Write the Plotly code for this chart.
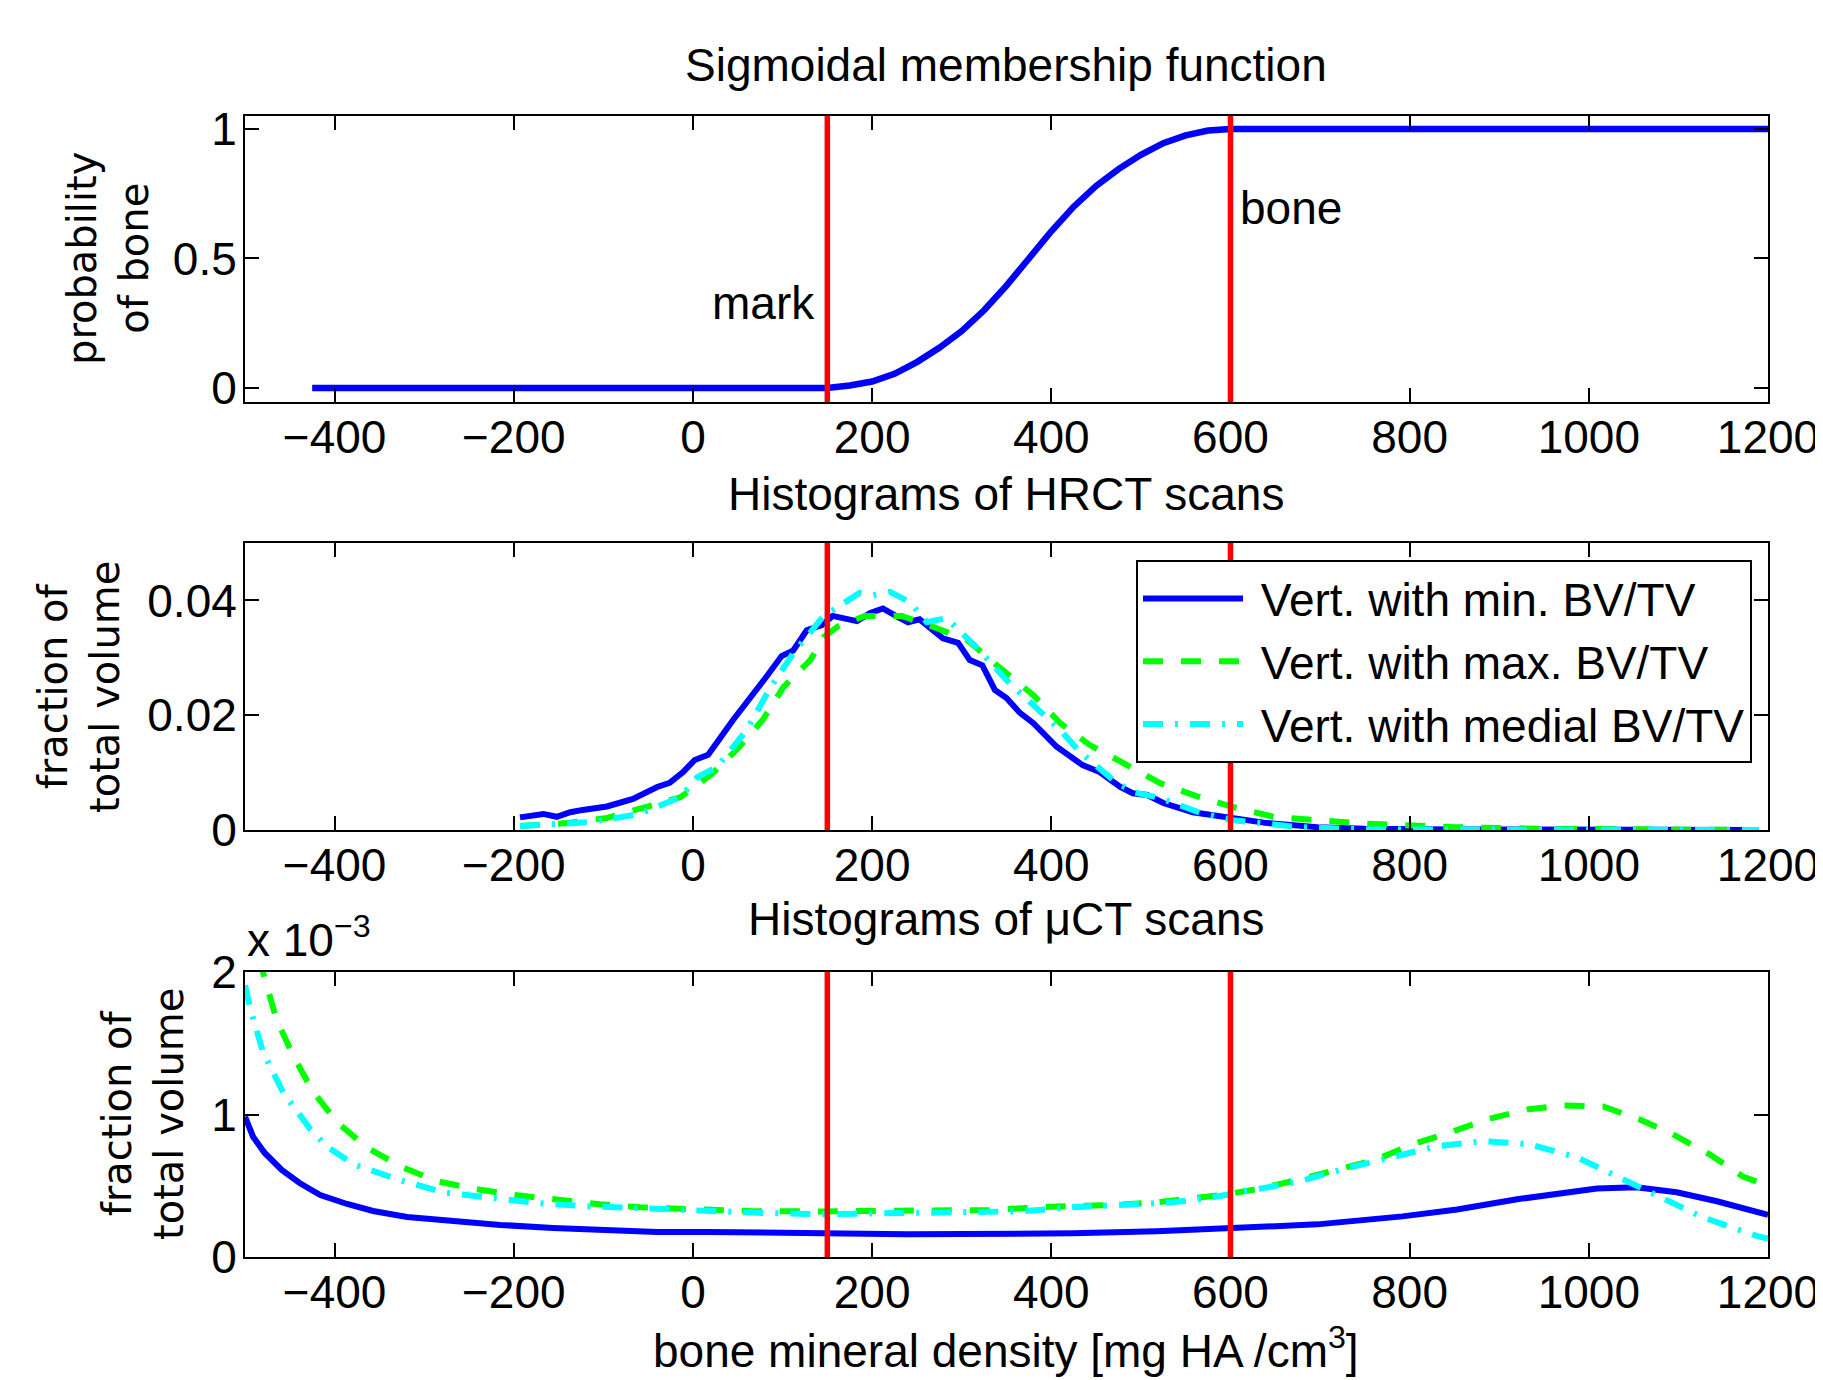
import plotly.graph_objects as go

# ---------------- data ----------------
# Top: sigmoidal membership function
sig_x = [-425, 150, 175, 200, 225, 250, 275, 300, 325, 350, 375, 400, 425, 450,
         475, 500, 525, 550, 575, 600, 1200]
sig_y = [0, 0, 0.01, 0.025, 0.055, 0.10, 0.155, 0.22, 0.30, 0.395, 0.50, 0.605,
         0.70, 0.78, 0.845, 0.90, 0.945, 0.975, 0.994, 1.0, 1.0]

thresholds = [150, 600]
threshold_labels = ["mark", "bone"]

# Middle: HRCT histograms
h_min_x = [-193, -167, -152, -137, -123, -107, -96, -67, -40, -26, -11, 2, 17, 45, 60,
           82, 99, 112, 127, 144, 156, 183, 198, 212, 231, 240, 253, 279, 296, 309,
           323, 337, 350, 365, 380, 406, 435, 454, 477, 491, 507, 525, 558, 599,
           641, 697, 750, 850, 1000, 1190]
h_min_y = [0.0022, 0.0028, 0.0023, 0.0031, 0.0035, 0.0040, 0.0041, 0.0054, 0.0075,
           0.0082, 0.0101, 0.0122, 0.0131, 0.0192, 0.0221, 0.0267, 0.0303, 0.0313,
           0.0348, 0.0357, 0.0373, 0.0364, 0.0378, 0.0386, 0.0369, 0.0362, 0.0367,
           0.0334, 0.0326, 0.0296, 0.0287, 0.0244, 0.0230, 0.0204, 0.0186, 0.0145,
           0.0113, 0.0101, 0.0075, 0.0064, 0.0061, 0.0047, 0.0031, 0.0021, 0.0012,
           0.0005, 0.0002, 0.0001, 0.0, 0.0]

h_max_x = [-193, -141, -96, -51, -14, 8, 22, 52, 78, 101, 131, 146, 161, 192, 233,
           268, 306, 343, 380, 410, 443, 480, 521, 562, 603, 648, 689, 750, 850,
           950, 1190]
h_max_y = [0.0007, 0.0012, 0.0021, 0.0040, 0.0057, 0.0082, 0.0099, 0.0145, 0.0192,
           0.0249, 0.0296, 0.0336, 0.0354, 0.0373, 0.0373, 0.0354, 0.0331, 0.0282,
           0.0235, 0.0186, 0.0148, 0.0117, 0.0082, 0.0059, 0.0040, 0.0023, 0.0019,
           0.0011, 0.0005, 0.0002, 0.0]

h_med_x = [-193, -167, -112, -60, -14, 5, 27, 60, 86, 112, 133, 147, 156, 186, 201,
           220, 242, 261, 283, 320, 350, 387, 410, 432, 469, 491, 521, 566, 603,
           677, 750, 1190]
h_med_y = [0.0007, 0.0009, 0.0014, 0.0028, 0.0057, 0.0092, 0.0110, 0.0174, 0.0247,
           0.0308, 0.0348, 0.0375, 0.0383, 0.0413, 0.0409, 0.0415, 0.0397, 0.0362,
           0.0369, 0.0313, 0.0261, 0.0206, 0.0174, 0.0136, 0.0087, 0.0066, 0.0056,
           0.0030, 0.0017, 0.0005, 0.0001, 0.0]

# Bottom: microCT histograms (fraction of total volume)
u_min_x = [-500, -491, -478, -459, -439, -416, -386, -357, -319, -268, -215, -156,
           -96, -40, 16, 71, 145, 239, 331, 424, 518, 599, 633, 697, 792, 853, 920,
           979, 1009, 1053, 1098, 1143, 1191, 1200]
u_min_y = [0.000985, 0.000844, 0.000730, 0.000611, 0.000519, 0.000435, 0.000372,
           0.000323, 0.000281, 0.000253, 0.000225, 0.000204, 0.000190, 0.000176,
           0.000176, 0.000168, 0.000166, 0.000159, 0.000159, 0.000166, 0.000180,
           0.000201, 0.000208, 0.000229, 0.000285, 0.000334, 0.000405, 0.000452,
           0.000481, 0.000489, 0.000454, 0.000391, 0.000306, 0.000295]

u_max_x = [-500, -480, -465, -446, -424, -397, -364, -327, -286, -241, -196, -152,
           -104, -59, 16, 67, 145, 239, 331, 406, 462, 518, 596, 633, 678, 763, 803,
           845, 886, 931, 971, 1016, 1057, 1094, 1135, 1172, 1200]
u_max_y = [0.00235, 0.00200, 0.00167, 0.00141, 0.00116, 0.000944, 0.000769,
           0.000637, 0.000532, 0.000475, 0.000433, 0.000398, 0.000370, 0.000349,
           0.000328, 0.000321, 0.000320, 0.000320, 0.000330, 0.000355, 0.000363,
           0.000384, 0.000440, 0.000480, 0.000545, 0.000685, 0.000790, 0.000874,
           0.000965, 0.001035, 0.001063, 0.001056, 0.000965, 0.000860, 0.000720,
           0.000565, 0.000500]

u_med_x = [-500, -494, -480, -457, -427, -409, -379, -330, -279, -227, -171, -118,
           -67, -15, 38, 89, 145, 201, 257, 313, 368, 424, 480, 536, 580, 630, 674,
           725, 778, 830, 882, 934, 987, 1031, 1079, 1127, 1188, 1200]
u_med_y = [0.001907, 0.00174, 0.00144, 0.00115, 0.000896, 0.000777, 0.000651,
           0.000545, 0.000454, 0.000412, 0.000377, 0.000356, 0.000342, 0.000328,
           0.000314, 0.000307, 0.000300, 0.000307, 0.000307, 0.000314, 0.000321,
           0.000349, 0.000363, 0.000384, 0.000419, 0.000476, 0.000526, 0.000615,
           0.000699, 0.000777, 0.000813, 0.000791, 0.000699, 0.000566, 0.000419,
           0.000279, 0.000146, 0.000130]

series_names = ["Vert. with min. BV/TV", "Vert. with max. BV/TV", "Vert. with medial BV/TV"]

x_ticks = [-400, -200, 0, 200, 400, 600, 800, 1000, 1200]

# ---------------- styling ----------------
OFF = 8                      # default page margin in front of the plot div
W, H = 1823 - OFF, 1380 - OFF
SANS = "Liberation Sans, Arial, Helvetica, sans-serif"
WIDE = "DejaVu Sans, Verdana, sans-serif"
FS = 46
BLUE, GREEN, CYAN, RED = "#0000FF", "#00FF00", "#00FFFF", "#FF0000"

def px_x(p):
    return (p - OFF) / W

def px_y(p):
    return 1 - (p - OFF) / H

xdom = [px_x(245), px_x(1768)]
ydoms = [[px_y(402), px_y(116)], [px_y(830), px_y(543)], [px_y(1257), px_y(972)]]

fig = go.Figure()

line_styles = [dict(color=BLUE, width=6, dash="solid"),
               dict(color=GREEN, width=6, dash="20px,18px"),
               dict(color=CYAN, width=6, dash="20px,12px,3px,12px")]

# top
fig.add_trace(go.Scatter(x=sig_x, y=sig_y, mode="lines", xaxis="x", yaxis="y",
                         line=dict(color=BLUE, width=6.5), showlegend=False))
# middle
for nm, xs, ys, st in zip(series_names, [h_min_x, h_max_x, h_med_x],
                          [h_min_y, h_max_y, h_med_y], line_styles):
    fig.add_trace(go.Scatter(x=xs, y=ys, mode="lines", xaxis="x2", yaxis="y2",
                             name="\u00a0" + nm, line=st, showlegend=True))
# bottom
for nm, xs, ys, st in zip(series_names, [u_min_x, u_max_x, u_med_x],
                          [u_min_y, u_max_y, u_med_y], line_styles):
    fig.add_trace(go.Scatter(x=xs, y=ys, mode="lines", xaxis="x3", yaxis="y3",
                             name=nm, line=st, showlegend=False))

# threshold lines
for i, (xa, ya) in enumerate([("x", "y"), ("x2", "y2"), ("x3", "y3")]):
    for t in thresholds:
        fig.add_shape(type="line", x0=t, x1=t, xref=xa, y0=0, y1=1,
                      yref=ya + " domain", line=dict(color=RED, width=5.5),
                      layer="above")

axis_common = dict(showline=True, linecolor="black", linewidth=2, mirror="ticks",
                   ticks="inside", ticklen=14, tickwidth=1.5, tickcolor="black",
                   showgrid=False, zeroline=False, automargin=False,
                   ticklabeloverflow="allow",
                   tickfont=dict(family=SANS, size=FS, color="black"))

layout = dict(
    template="none",
    width=W, height=H, margin=dict(l=0, r=0, t=0, b=0, pad=0), autosize=False,
    paper_bgcolor="white", plot_bgcolor="white",
    font=dict(family=SANS, size=FS, color="black"),
    legend=dict(x=px_x(1752), xanchor="right", y=px_y(560), yanchor="top",
                bgcolor="white", bordercolor="black", borderwidth=2,
                font=dict(family=SANS, size=FS, color="black"),
                itemwidth=100, tracegroupgap=0),
)
ytick_sets = [
    dict(range=[-0.054, 1.05], tickvals=[0, 0.5, 1], ticktext=["0", "0.5", "1"]),
    dict(range=[0, 0.05], tickvals=[0, 0.02, 0.04], ticktext=["0", "0.02", "0.04"]),
    dict(range=[0, 0.002], tickvals=[0, 0.001, 0.002], ticktext=["0", "1", "2"]),
]
for i in range(3):
    sfx = "" if i == 0 else str(i + 1)
    layout["xaxis" + sfx] = dict(axis_common, domain=xdom, range=[-500, 1200],
                                 tickvals=x_ticks, anchor="y" + sfx,
                                 ticklabelstandoff=-6)
    layout["yaxis" + sfx] = dict(axis_common, domain=ydoms[i], anchor="x" + sfx,
                                 ticklabelstandoff=-3, **ytick_sets[i])
fig.update_layout(**layout)

ann = []
def text_px(txt, x, y, size=FS, family=SANS, xanchor="center", yanchor="middle", angle=0):
    ann.append(dict(text=txt, x=px_x(x), y=px_y(y), xref="paper", yref="paper",
                    showarrow=False, xanchor=xanchor, yanchor=yanchor, textangle=angle,
                    font=dict(family=family, size=size, color="black")))

text_px("Sigmoidal membership function", 1006, 65)
text_px("Histograms of HRCT scans", 1006, 494)
text_px("Histograms of \u03bcCT scans", 1006, 919)
text_px("bone mineral density [mg HA /cm<sup>3</sup>]", 1006, 1348)
text_px("probability<br>of bone", 108, 259, size=40, family=WIDE, angle=-90)
text_px("fraction of<br>total volume", 79, 687, size=40, family=WIDE, angle=-90)
text_px("fraction of<br>total volume", 143, 1114, size=40, family=WIDE, angle=-90)
text_px("x 10<sup>\u22123</sup>", 245, 968, xanchor="left", yanchor="bottom")

# threshold labels in the top panel
ann.append(dict(text=threshold_labels[0], x=thresholds[0], y=0.33, xref="x", yref="y",
                showarrow=False, xanchor="right", xshift=-10,
                font=dict(family=SANS, size=FS, color="black")))
ann.append(dict(text=threshold_labels[1], x=thresholds[1], y=0.695, xref="x", yref="y",
                showarrow=False, xanchor="left", xshift=8,
                font=dict(family=SANS, size=FS, color="black")))
fig.update_layout(annotations=ann)

fig.write_html("out.html")
